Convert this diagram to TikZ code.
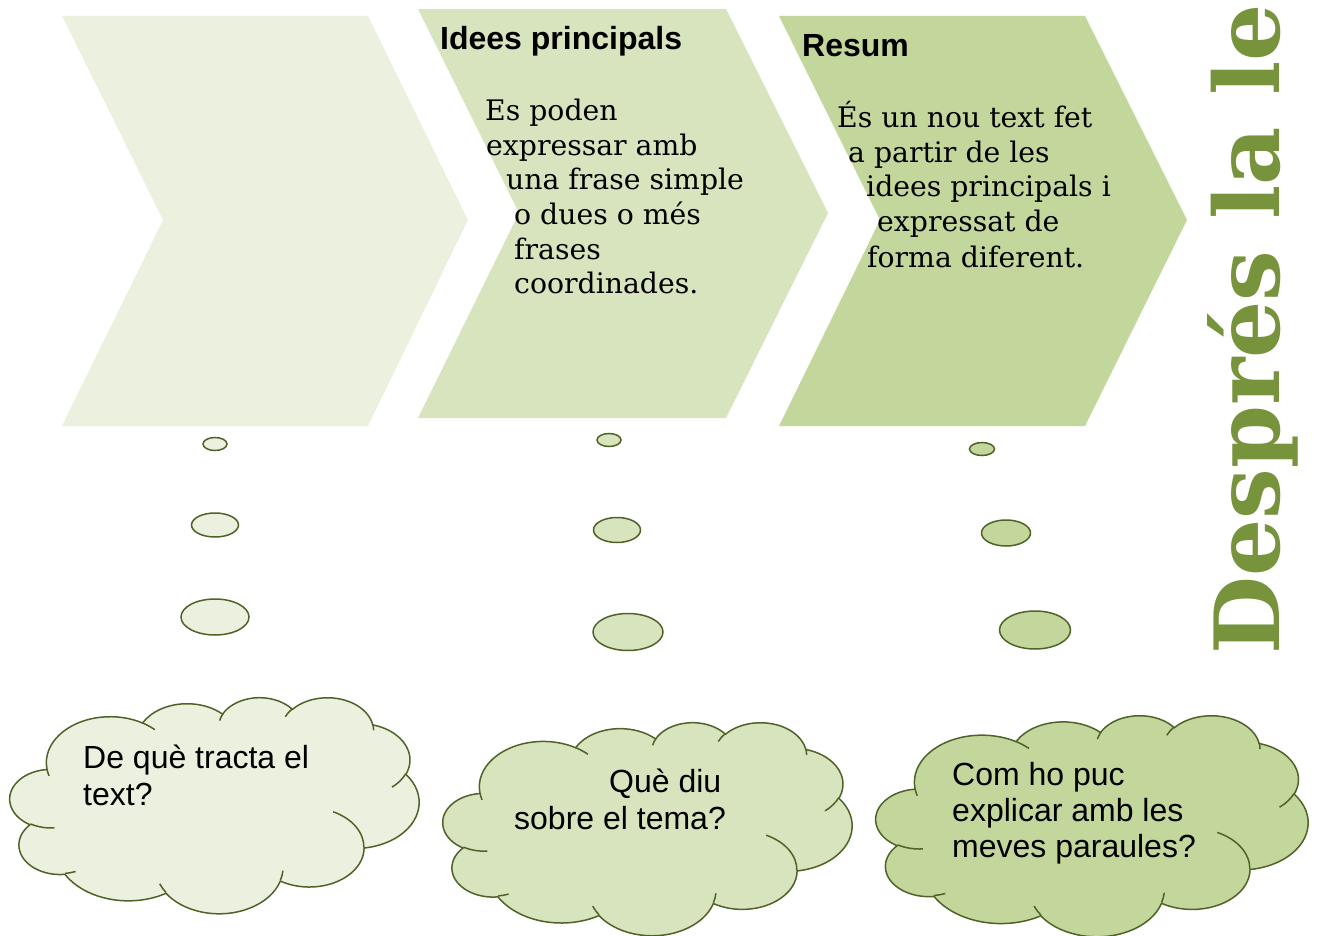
\documentclass[tikz,border=0pt]{standalone}
\usepackage{fontspec}
\usetikzlibrary{shapes.geometric}
\newfontfamily\sansf{Liberation Sans}
\newfontfamily\seriff{DejaVu Serif}
\definecolor{cA}{HTML}{EBF1DE}
\definecolor{cB}{HTML}{D7E4BD}
\definecolor{cC}{HTML}{C3D69B}
\definecolor{cLine}{HTML}{4F6228}
\definecolor{cTitle}{HTML}{77933C}

% ---- Office-like cloud shape helpers ----
\newcommand\cmove[2]{\xdef\cpath{\cpath ({\cxo+#1*\csx},{\cyo+#2*\csy})}}
\newcommand\carc[4]{%
  \pgfmathsetmacro\tA{atan2((#1)*sin(#3),(#2)*cos(#3))}%
  \pgfmathsetmacro\tR{atan2((#1)*sin((#3)+(#4)),(#2)*cos((#3)+(#4)))}%
  \pgfmathsetmacro\tB{\tR+360*round((\tA+(#4)-\tR)/360)}%
  \pgfmathsetmacro\nA{-1*(\tA)}%
  \pgfmathsetmacro\nB{-1*(\tB)}%
  \pgfmathsetmacro\rA{(#1)*\csx}%
  \pgfmathsetmacro\rB{(#2)*\csy}%
  \xdef\cpath{\cpath arc[start angle=\nA, end angle=\nB, x radius=\rA pt, y radius=\rB pt]}%
}
\newcommand\drawcloud[5]{%
  \def\cxo{#1}\def\cyo{#2}%
  \pgfmathsetmacro\csx{#3/432}\pgfmathsetmacro\csy{#4/432}%
  \gdef\cpath{}%
  \cmove{39.00}{143.70}%
  \carc{67.53}{91.90}{-190.4875}{123.7805}%
  \carc{53.33}{72.67}{-144.1024}{89.9452}%
  \carc{43.65}{59.45}{-145.8079}{99.7230}%
  \carc{48.57}{65.95}{-130.9861}{117.2417}%
  \carc{53.33}{72.73}{-78.7089}{109.0269}%
  \carc{67.75}{92.20}{-46.2673}{130.2690}%
  \carc{57.85}{78.67}{0.6250}{114.0333}%
  \carc{67.52}{92.15}{22.4516}{115.1726}%
  \carc{77.20}{105.43}{66.2426}{75.7110}%
  \carc{43.60}{59.18}{-274.9421}{146.7356}%
  \carc{43.45}{59.45}{-246.8285}{152.5189}%
  \draw[cloudline, fill=#5] \cpath -- cycle;
  \gdef\cpath{}%
  \cmove{46.93}{261.77}\carc{43.45}{59.45}{86.7420}{26.4295}%
  \cmove{69.28}{348.99}\carc{43.60}{59.18}{73.6105}{11.4475}%
  \cmove{164.78}{390.90}\carc{67.52}{92.15}{137.6242}{14.0811}%
  \cmove{288.27}{347.51}\carc{67.52}{92.15}{6.4533}{15.9984}%
  \cmove{341.29}{229.54}\carc{57.85}{78.67}{-70.2924}{70.9174}%
  \cmove{417.98}{153.54}\carc{53.33}{72.73}{30.3180}{27.7515}%
  \cmove{383.24}{54.26}\carc{48.57}{65.95}{-13.7443}{14.8589}%
  \cmove{290.78}{39.52}\carc{48.57}{65.95}{-149.1815}{18.1954}%
  \cmove{221.41}{47.20}\carc{43.65}{59.45}{-163.4943}{17.6864}%
  \cmove{140.00}{51.92}\carc{67.53}{91.90}{-66.7070}{12.3194}%
  \cmove{41.27}{157.89}\carc{67.53}{91.90}{157.6544}{11.8582}%
  \draw[cloudline] \cpath;
}

\begin{document}
\begin{tikzpicture}[x=1pt,y=-1pt,
  cloudline/.style={draw=cLine, line width=1.5pt},
  bubble/.style={ellipse, draw=cLine, line width=1.5pt, inner sep=0pt},
  txt/.style={inner sep=0pt, anchor=base west},
  qtext/.style={txt, font=\sansf\fontsize{32}{37}\selectfont},
  htext/.style={txt, font=\sansf\bfseries\fontsize{32}{37}\selectfont},
  btext/.style={txt, font=\seriff\fontsize{28.3}{34}\selectfont}]
\useasboundingbox (0,0) rectangle (1320,936);
\clip (0,0) rectangle (1320,936);

% chevrons
\fill[cA] (62,16) -- (368,16) -- (468,220) -- (368,426) -- (62,426) -- (163,220) -- cycle;
\fill[cB] (418,9) -- (726,9) -- (828,213) -- (726,418) -- (418,418) -- (519,213) -- cycle;
\fill[cC] (779,16) -- (1085,16) -- (1187,220) -- (1085,426) -- (779,426) -- (880,220) -- cycle;

% chevron texts
\node[htext] (h2) at (440,50) {Idees principals};
\node[btext] (b2a) at (485,121) {Es poden};
\node[btext] (b2b) at (486,156) {expressar amb};
\node[btext] (b2c) at (506,190) {una frase simple};
\node[btext] (b2d) at (514,225) {o dues o més};
\node[btext] (b2e) at (514,259) {frases};
\node[btext] (b2f) at (514,293) {coordinades.};

\node[htext] (h3) at (802,57) {Resum};
\node[btext] (b3a) at (837,128) {És un nou text fet};
\node[btext] (b3b) at (848,163) {a partir de les};
\node[btext] (b3c) at (866,197) {idees principals i};
\node[btext] (b3d) at (877,232) {expressat de};
\node[btext] (b3e) at (867,267) {forma diferent.};

% title (cut off at the top edge, as in the reference)
\node[rotate=90, inner sep=0pt, anchor=base west, text=cTitle,
      font=\seriff\bfseries\fontsize{90}{90}\selectfont] (title) at (1279,655) {Després la le};

% thought bubbles
\node[bubble, fill=cA, minimum width=24pt, minimum height=13pt] (e1a) at (215,444) {};
\node[bubble, fill=cA, minimum width=47pt, minimum height=24pt] (e1b) at (215,525) {};
\node[bubble, fill=cA, minimum width=68pt, minimum height=36pt] (e1c) at (215,617) {};
\node[bubble, fill=cB, minimum width=24pt, minimum height=13pt] (e2a) at (609,440) {};
\node[bubble, fill=cB, minimum width=47pt, minimum height=25pt] (e2b) at (617,530) {};
\node[bubble, fill=cB, minimum width=70pt, minimum height=37pt] (e2c) at (628,632) {};
\node[bubble, fill=cC, minimum width=25pt, minimum height=13pt] (e3a) at (982,449) {};
\node[bubble, fill=cC, minimum width=49pt, minimum height=26pt] (e3b) at (1006,533) {};
\node[bubble, fill=cC, minimum width=71pt, minimum height=38pt] (e3c) at (1035,630) {};

% clouds
\drawcloud{10}{697}{409}{216}{cA}
\drawcloud{443}{722}{409}{213}{cB}
\drawcloud{876}{715}{432}{221}{cC}

\node[qtext] (q1a) at (83,768) {De què tracta el};
\node[qtext] (q1b) at (83,805) {text?};
\node[qtext] (q2a) at (609,792) {Què diu};
\node[qtext] (q2b) at (514,829) {sobre el tema?};
\node[qtext] (q3a) at (952,785) {Com ho puc};
\node[qtext] (q3b) at (952,821) {explicar amb les};
\node[qtext] (q3c) at (952,857) {meves paraules?};
\end{tikzpicture}
\end{document}
